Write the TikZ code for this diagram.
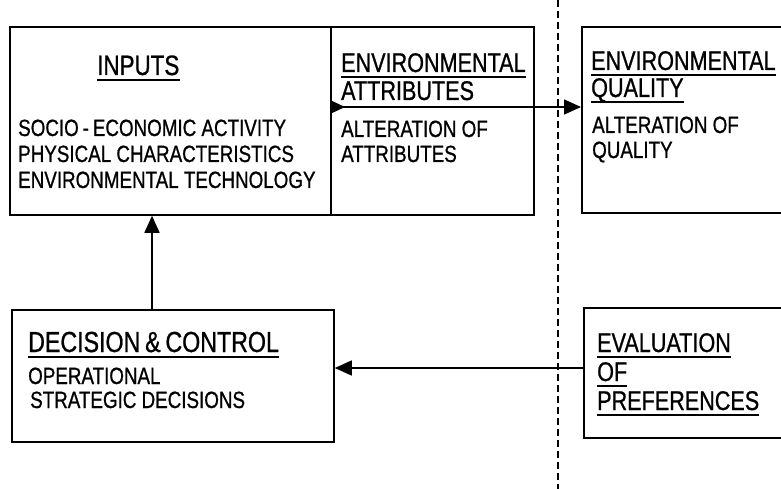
\documentclass[tikz,border=0pt]{standalone}
\usepackage{fontspec}
\setmainfont{Liberation Sans}[FakeStretch=0.8,FakeBold=0.8]
\usetikzlibrary{arrows.meta}
\newcommand{\hdfont}{\fontsize{27}{30}\selectfont}
\newcommand{\bdfont}{\fontsize{23.5}{26}\selectfont}
\newcommand{\ulnode}[1]{\draw[uline] ([yshift=-5pt]#1.base west) -- ([yshift=-5pt]#1.base east);}
\begin{document}
\begin{tikzpicture}[x=1pt,y=-1pt,
  box/.style={draw, line width=1.8pt, inner sep=0pt, anchor=north west},
  hd/.style={inner sep=0pt, anchor=base west, font=\hdfont},
  bd/.style={inner sep=0pt, anchor=base west, font=\bdfont},
  uline/.style={line width=1.6pt},
  conn/.style={line width=1.6pt},
  tip/.style={-{Triangle[length=17pt,width=15pt]}},
  sep/.style={line width=1.6pt, dash pattern=on 7pt off 4pt}]
\useasboundingbox (0,0) rectangle (781,489);
\clip (0,0) rectangle (781,489);
\fill[white] (0,0) rectangle (781,489);

% boxes
\node[box, minimum width=321pt, minimum height=188pt] (inputs) at (9,26) {};
\node[box, minimum width=203pt, minimum height=188pt] (attr) at (330,26) {};
\node[box, minimum width=230pt, minimum height=186pt] (qual) at (581,26) {};
\node[box, minimum width=322pt, minimum height=132pt] (dec) at (11,309) {};
\node[box, minimum width=230pt, minimum height=130pt] (eval) at (583,307) {};

% separator
\coordinate (septop) at (558,0);
\coordinate (sepbot) at (558,489);
\draw[sep] (septop) -- (sepbot);

% inputs texts
\node[hd, font=\fontsize{28}{30}\selectfont] (tin) at (97,75) {INPUTS};
\ulnode{tin}
\node[bd] (t1) at (18,136) {SOCIO\,-\,ECONOMIC ACTIVITY};
\node[bd] (t2) at (18,162) {PHYSICAL CHARACTERISTICS};
\node[bd] (t3) at (18,188) {ENVIRONMENTAL TECHNOLOGY};

% attributes texts
\node[hd] (ta1) at (341,72) {ENVIRONMENTAL};
\ulnode{ta1}
\node[hd] (ta2) at (341,100) {ATTRIBUTES};
\node[bd] (ta3) at (341,137) {ALTERATION OF};
\node[bd] (ta4) at (341,162) {ATTRIBUTES};

% quality texts
\node[hd] (tq1) at (591,70) {ENVIRONMENTAL};
\ulnode{tq1}
\node[hd] (tq2) at (591,97) {QUALITY};
\ulnode{tq2}
\node[bd] (tq3) at (592,133) {ALTERATION OF};
\node[bd] (tq4) at (592,158) {QUALITY};

% decision texts
\node[hd, font=\fontsize{29}{30}\selectfont] (td1) at (28,352) {DECISION\thinspace\&\thinspace CONTROL};
\ulnode{td1}
\node[bd] (td2) at (28,384) {OPERATIONAL};
\node[bd] (td3) at (30,408) {STRATEGIC DECISIONS};

% evaluation texts
\node[hd] (te1) at (597,352) {EVALUATION};
\ulnode{te1}
\node[hd] (te2) at (597,381) {OF};
\ulnode{te2}
\node[hd] (te3) at (597,410) {PREFERENCES};
\ulnode{te3}

% connectors
\coordinate (astart) at (330,107);
\draw[conn, tip] (astart) -- (astart -| qual.west);
\fill (330,100) -- (345,107) -- (330,114) -- cycle;

\coordinate (upfoot) at (152,309);
\draw[conn, tip] (upfoot) -- (upfoot |- inputs.south);

\coordinate (evfoot) at (583,368);
\draw[conn, tip] (evfoot) -- (evfoot -| dec.east);
\end{tikzpicture}
\end{document}
